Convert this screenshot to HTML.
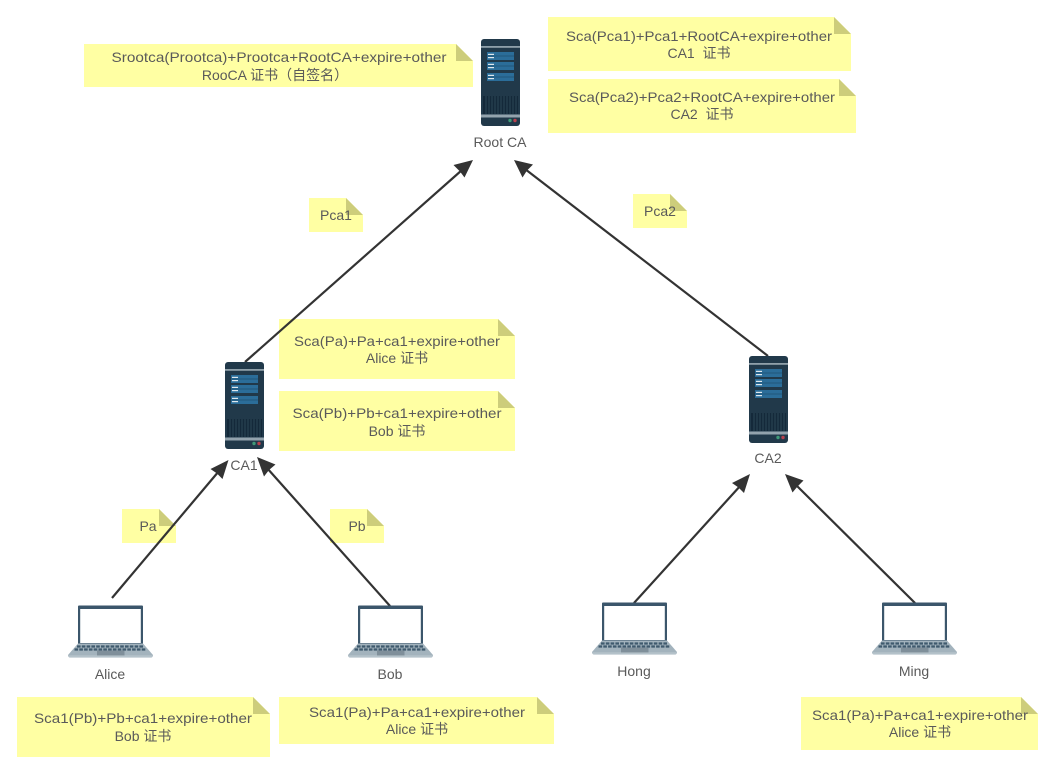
<!DOCTYPE html>
<html><head><meta charset="utf-8"><style>
html,body{margin:0;padding:0;background:#fff;width:1050px;height:769px;overflow:hidden}
svg{display:block}
text{font-family:"Liberation Sans","Noto Sans CJK SC",sans-serif;font-size:14px;fill:#5a5a5a;text-anchor:middle}
.n{fill:#ffffa3}.f{fill:#cdcd7b}
.l{stroke:#333;stroke-width:2.2;fill:none}
.h{fill:#333}
</style></head><body>
<svg width="1050" height="769" viewBox="0 0 1050 769" xmlns="http://www.w3.org/2000/svg">
<defs>
<g id="srv">
<rect x="0" y="0" width="39" height="87" rx="3" fill="#21394a"/>
<rect x="0" y="7" width="39" height="1.800" fill="#8fa0aa"/>
<rect x="0" y="75.500" width="39" height="3" fill="#93a3ad"/>
<rect x="6" y="13" width="27" height="8" fill="#2b6d99"/>
<rect x="6" y="23" width="27" height="8" fill="#2b6d99"/>
<rect x="6" y="34" width="27" height="8" fill="#2b6d99"/>
<path d="M6 17H33M6 27H33M6 38H33" stroke="#1f5072" stroke-width=".7"/>
<rect x="7" y="14.800" width="6" height="1.200" fill="#dfe8ee"/><rect x="7" y="18" width="6" height="1.200" fill="#dfe8ee"/>
<rect x="7" y="24.800" width="6" height="1.200" fill="#dfe8ee"/><rect x="7" y="28" width="6" height="1.200" fill="#dfe8ee"/>
<rect x="7" y="35.800" width="6" height="1.200" fill="#dfe8ee"/><rect x="7" y="39" width="6" height="1.200" fill="#dfe8ee"/>
<rect x="2" y="57" width="35" height="18" fill="#14293a"/>
<path d="M5 57v18M8 57v18M11 57v18M14 57v18M17 57v18M20 57v18M23 57v18M26 57v18M29 57v18M32 57v18M35 57v18" stroke="#34505f" stroke-width=".8"/>
<circle cx="29" cy="81.500" r="1.700" fill="#3f9a78"/><circle cx="34" cy="81.500" r="1.700" fill="#b8404e"/>
</g>
<g id="lap">
<rect x="10" y="0" width="65" height="41" rx="1" fill="#3b566b"/>
<rect x="12.200" y="3.500" width="60.600" height="34" fill="#fff"/>
<path d="M10 38H75L85 49.500Q85 52 83 52H2Q0 52 0 49.500Z" fill="#a3b3bd"/>
<path d="M9 41H76M6.500 44H78.500" stroke="#3f5a6e" stroke-width="2.200" stroke-dasharray="3.600 1.200"/>
<rect x="29" y="45" width="27.500" height="5" fill="#7f8f9a"/>
<rect x="0.500" y="50" width="84" height="1.200" fill="#bcc8cf"/>
</g>
</defs>

<!-- notes -->
<path class="n" d="M84 44H456L473 61V87H84Z"/><path class="f" d="M456 44L473 61H456Z"/>
<path class="n" d="M548 17H834L851 34V71H548Z"/><path class="f" d="M834 17L851 34H834Z"/>
<path class="n" d="M548 79H839L856 96V133H548Z"/><path class="f" d="M839 79L856 96H839Z"/>
<path class="n" d="M309 198H346L363 215V232H309Z"/><path class="f" d="M346 198L363 215H346Z"/>
<path class="n" d="M633 194H670L687 211V228H633Z"/><path class="f" d="M670 194L687 211H670Z"/>
<path class="n" d="M279 319H498L515 336V379H279Z"/><path class="f" d="M498 319L515 336H498Z"/>
<path class="n" d="M279 391H498L515 408V451H279Z"/><path class="f" d="M498 391L515 408H498Z"/>
<path class="n" d="M122 509H159L176 526V543H122Z"/><path class="f" d="M159 509L176 526H159Z"/>
<path class="n" d="M330 509H367L384 526V543H330Z"/><path class="f" d="M367 509L384 526H367Z"/>
<path class="n" d="M17 697H253L270 714V757H17Z"/><path class="f" d="M253 697L270 714H253Z"/>
<path class="n" d="M279 697H537L554 714V744H279Z"/><path class="f" d="M537 697L554 714H537Z"/>
<path class="n" d="M801 697H1021L1038 714V750H801Z"/><path class="f" d="M1021 697L1038 714H1021Z"/>

<!-- connectors -->
<path class="l" d="M245 362L462 170"/>
<path class="h" d="M473 160L464.500 177.500L460 171.500L453.500 165Z"/>
<path class="l" d="M768 356L525 169"/>
<path class="h" d="M514 160L533 164.500L527 170.500L522.500 177.500Z"/>
<path class="l" d="M112 598L219 471"/>
<path class="h" d="M228.500 460L222.500 479L217 473.500L210.500 469Z"/>
<path class="l" d="M390 606L267 468"/>
<path class="h" d="M257 457L275.500 464.500L269 470L264 476.500Z"/>
<path class="l" d="M634 603L741 485"/>
<path class="h" d="M750 474L744 493L738.500 487.500L732 483Z"/>
<path class="l" d="M915 603L795 484"/>
<path class="h" d="M785 474L803.500 480.500L797.500 486.500L792.500 492.500Z"/>

<!-- servers, laptops -->
<use href="#srv" x="481" y="39"/>
<use href="#srv" x="225" y="362"/>
<use href="#srv" x="749" y="356"/>
<use href="#lap" x="68" y="605.500"/>
<use href="#lap" x="348" y="605.500"/>
<use href="#lap" x="592" y="602.500"/>
<use href="#lap" x="872" y="602.500"/>

<!-- labels -->
<text x="279" y="62" textLength="335" lengthAdjust="spacingAndGlyphs">Srootca(Prootca)+Prootca+RootCA+expire+other</text>
<text x="275" y="80">RooCA 证书（自签名）</text>
<text x="699" y="41" textLength="266" lengthAdjust="spacingAndGlyphs">Sca(Pca1)+Pca1+RootCA+expire+other</text>
<text x="699" y="58">CA1&#160; 证书</text>
<text x="702" y="102" textLength="266" lengthAdjust="spacingAndGlyphs">Sca(Pca2)+Pca2+RootCA+expire+other</text>
<text x="702" y="119">CA2&#160; 证书</text>
<text x="500" y="147">Root CA</text>
<text x="336" y="220">Pca1</text>
<text x="660" y="216">Pca2</text>
<text x="397" y="346" textLength="206" lengthAdjust="spacingAndGlyphs">Sca(Pa)+Pa+ca1+expire+other</text>
<text x="397" y="363">Alice 证书</text>
<text x="397" y="418" textLength="209" lengthAdjust="spacingAndGlyphs">Sca(Pb)+Pb+ca1+expire+other</text>
<text x="397" y="436">Bob 证书</text>
<text x="244" y="470">CA1</text>
<text x="768" y="463">CA2</text>
<text x="148" y="531">Pa</text>
<text x="357" y="531">Pb</text>
<text x="110" y="679">Alice</text>
<text x="390" y="679">Bob</text>
<text x="634" y="676">Hong</text>
<text x="914" y="676">Ming</text>
<text x="143" y="723" textLength="218" lengthAdjust="spacingAndGlyphs">Sca1(Pb)+Pb+ca1+expire+other</text>
<text x="143" y="741">Bob 证书</text>
<text x="417" y="717" textLength="216" lengthAdjust="spacingAndGlyphs">Sca1(Pa)+Pa+ca1+expire+other</text>
<text x="417" y="734">Alice 证书</text>
<text x="920" y="720" textLength="216" lengthAdjust="spacingAndGlyphs">Sca1(Pa)+Pa+ca1+expire+other</text>
<text x="920" y="737">Alice 证书</text>
</svg>
</body></html>
